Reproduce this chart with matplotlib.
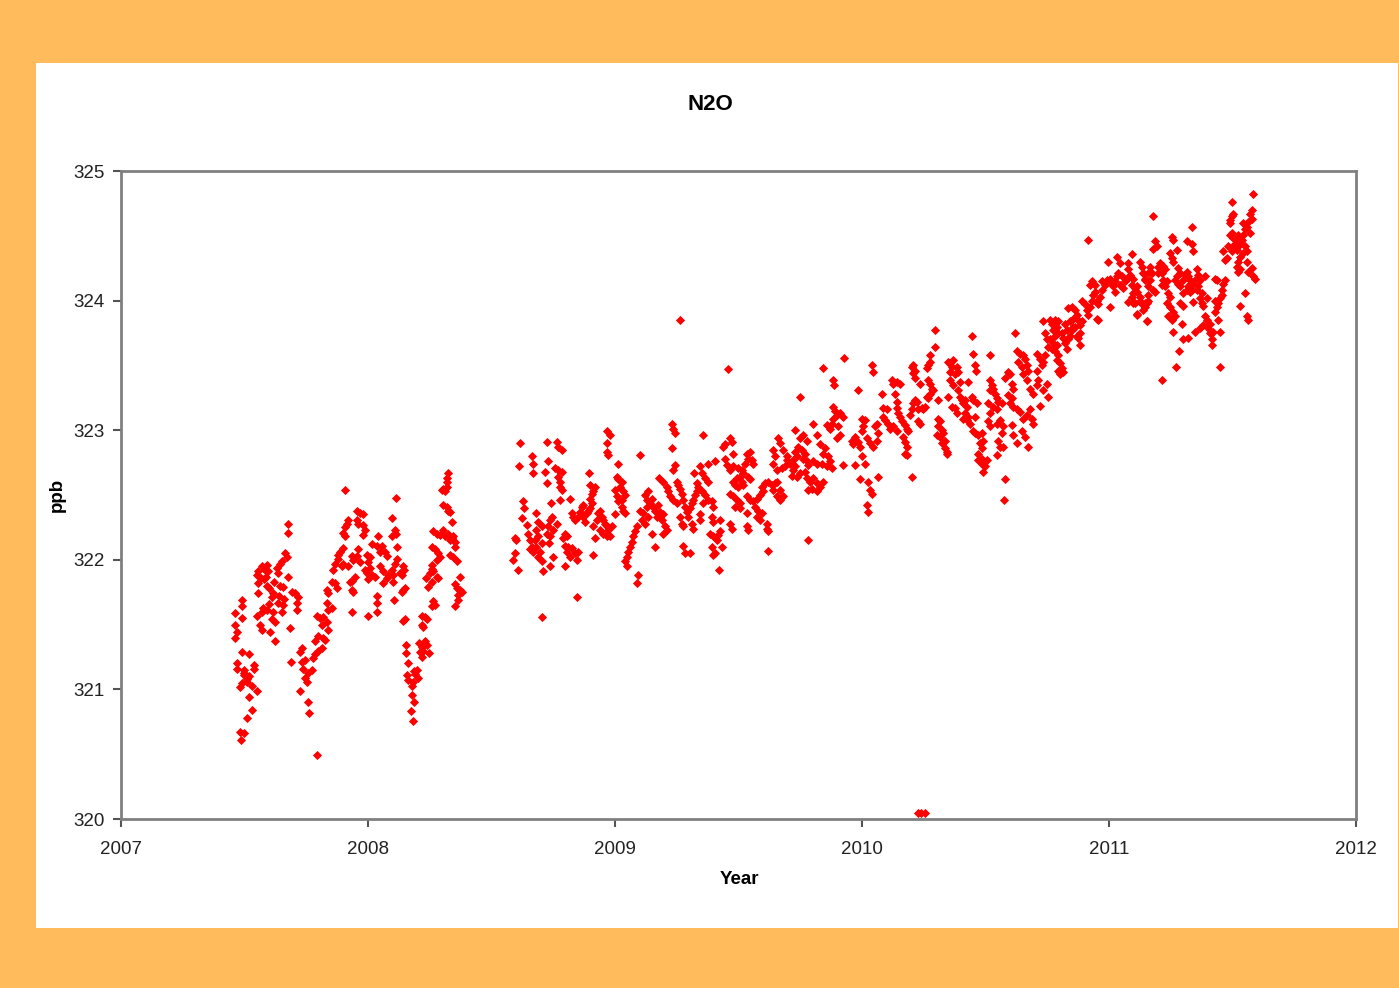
import matplotlib
matplotlib.use("Agg")
import matplotlib.pyplot as plt
from matplotlib.patches import Rectangle

plt.rcParams['font.family'] = ['Liberation Sans', 'DejaVu Sans']

title = "N2O"
x_label = "Year"
y_label = "ppb"
x_ticks = [2007, 2008, 2009, 2010, 2011, 2012]
y_ticks = [320, 321, 322, 323, 324, 325]

# (decimal year, N2O ppb)
seg_2007a = [(2007.46,321.59),(2007.46,321.50),(2007.47,321.44),(2007.46,321.40),(2007.49,321.69),(2007.49,321.64),(2007.49,321.55),(2007.49,321.29),(2007.52,321.27),(2007.47,321.20),(2007.47,321.16),(2007.54,321.19),(2007.54,321.16),(2007.50,321.11),(2007.52,321.10),(2007.48,321.02),(2007.51,321.06),(2007.53,321.03),(2007.55,320.99),(2007.52,320.94),(2007.53,320.84),(2007.51,320.78),(2007.48,320.67),(2007.50,320.66),(2007.485,320.61),(2007.50,321.13),(2007.51,321.08),(2007.49,321.05),(2007.50,321.15)]

seg_2007b = [(2007.676,322.28),(2007.676,322.21),(2007.664,322.05),(2007.672,322.02),(2007.644,321.97),(2007.650,321.99),(2007.555,321.91),(2007.583,321.92),(2007.595,321.91),(2007.551,321.88),(2007.565,321.86),(2007.587,321.87),(2007.632,321.94),(2007.636,321.90),(2007.676,321.87),(2007.555,321.82),(2007.591,321.80),(2007.644,321.80),(2007.656,321.79),(2007.692,321.75),(2007.704,321.74),(2007.717,321.71),(2007.611,321.71),(2007.615,321.74),(2007.555,321.74),(2007.713,321.67),(2007.713,321.61),(2007.636,321.67),(2007.656,321.65),(2007.575,321.63),(2007.571,321.60),(2007.591,321.61),(2007.615,321.60),(2007.611,321.54),(2007.623,321.52),(2007.652,321.60),(2007.551,321.57),(2007.563,321.50),(2007.571,321.46),(2007.603,321.44),(2007.623,321.37),(2007.684,321.47),(2007.688,321.21),(2007.58,321.85),(2007.60,321.78),(2007.62,321.83),(2007.64,321.72),(2007.66,321.70),(2007.60,321.66),(2007.57,321.95),(2007.59,321.96)]

seg_2007c = [(2007.725,321.29),(2007.733,321.32),(2007.733,321.21),(2007.745,321.23),(2007.737,321.16),(2007.745,321.09),(2007.753,321.06),(2007.757,321.13),(2007.773,321.15),(2007.725,320.99),(2007.757,320.90),(2007.761,320.82),(2007.794,320.49),(2007.777,321.24),(2007.785,321.27),(2007.798,321.30),(2007.814,321.32),(2007.785,321.37),(2007.798,321.41),(2007.826,321.38),(2007.818,321.40),(2007.794,321.57),(2007.806,321.55),(2007.818,321.56),(2007.814,321.50),(2007.834,321.52),(2007.838,321.46),(2007.834,321.67),(2007.838,321.61),(2007.854,321.63),(2007.834,321.77),(2007.838,321.74),(2007.854,321.83),(2007.866,321.82),(2007.874,321.78),(2007.858,321.92),(2007.866,321.97),(2007.879,322.01),(2007.887,322.06),(2007.879,322.04),(2007.895,321.95),(2007.899,321.97),(2007.899,322.09),(2007.907,322.25),(2007.915,322.28),(2007.919,322.31),(2007.907,322.18),(2007.899,322.21),(2007.907,322.54),(2007.935,322.03),(2007.939,322.00),(2007.919,321.95),(2007.955,322.38),(2007.968,322.36),(2007.955,322.31),(2007.960,322.28),(2007.980,322.35),(2007.980,322.27),(2007.988,322.23),(2007.980,322.19),(2007.935,321.84),(2007.947,321.87),(2007.927,321.83),(2007.939,321.75),(2007.935,321.77),(2007.935,321.60),(2007.960,322.08),(2007.955,322.03),(2007.968,321.98),(2007.996,322.04),(2008.008,322.02),(2008.000,321.98),(2007.988,321.92),(2007.996,321.90),(2008.008,321.94),(2008.000,321.85),(2008.016,322.12),(2008.036,322.11),(2008.040,322.18),(2008.057,322.11),(2008.049,322.06),(2008.069,322.06),(2008.077,322.03),(2008.016,321.88),(2008.028,321.87),(2008.036,321.72),(2008.036,321.67),(2008.000,321.57),(2008.036,321.60),(2008.049,321.95),(2008.061,321.91),(2008.077,321.86),(2008.061,321.82),(2008.081,321.88)]

seg_2008a = [(2008.113,322.48),(2008.096,322.32),(2008.109,322.23),(2008.113,322.20),(2008.116,322.10),(2008.096,322.18),(2008.116,322.01),(2008.109,321.97),(2008.096,321.92),(2008.140,321.95),(2008.146,321.92),(2008.136,321.88),(2008.130,321.90),(2008.103,321.88),(2008.100,321.83),(2008.150,321.78),(2008.143,321.77),(2008.136,321.75),(2008.105,321.69),(2008.143,321.53),(2008.150,321.54),(2008.154,321.34),(2008.154,321.28),(2008.163,321.20),(2008.159,321.11),(2008.163,321.07),(2008.177,321.03),(2008.184,321.06),(2008.190,321.12),(2008.204,321.09),(2008.197,321.15),(2008.186,321.14),(2008.177,320.96),(2008.186,320.90),(2008.173,320.83),(2008.181,320.76),(2008.208,321.36),(2008.217,321.33),(2008.224,321.30),(2008.238,321.34),(2008.231,321.37),(2008.211,321.29),(2008.217,321.25),(2008.248,321.28),(2008.217,321.57),(2008.231,321.56),(2008.238,321.54),(2008.217,321.50),(2008.224,321.48),(2008.265,321.68),(2008.271,321.65),(2008.258,321.64),(2008.235,321.86),(2008.251,321.90),(2008.244,321.79),(2008.258,321.83),(2008.278,321.87),(2008.285,321.86),(2008.265,321.91),(2008.258,321.93),(2008.258,322.10),(2008.271,322.08),(2008.285,322.05),(2008.292,322.02),(2008.278,322.00),(2008.258,321.96),(2008.265,322.22),(2008.278,322.20),(2008.292,322.19),(2008.305,322.23),(2008.312,322.18),(2008.325,322.20),(2008.332,322.15),(2008.339,322.17),(2008.305,322.42),(2008.319,322.41),(2008.325,322.38),(2008.332,322.37),(2008.298,322.54),(2008.312,322.53),(2008.305,322.55),(2008.319,322.56),(2008.325,322.67),(2008.321,322.63),(2008.319,322.60),(2008.339,322.29),(2008.345,322.18),(2008.352,322.14),(2008.352,322.10),(2008.332,322.04),(2008.345,322.02),(2008.359,321.99),(2008.372,321.87),(2008.352,321.81),(2008.359,321.78),(2008.372,321.77),(2008.379,321.75),(2008.366,321.73),(2008.366,321.69),(2008.352,321.64)]

seg_2008b = [(2008.615,322.90),(2008.612,322.72),(2008.628,322.45),(2008.631,322.40),(2008.622,322.32),(2008.595,322.17),(2008.601,322.15),(2008.595,322.05),(2008.588,322.00),(2008.608,321.92),(2008.642,322.27),(2008.649,322.20),(2008.655,322.15),(2008.662,322.10),(2008.669,322.06),(2008.655,322.08),(2008.662,322.80),(2008.666,322.74),(2008.669,322.67),(2008.682,322.36),(2008.689,322.29),(2008.703,322.26),(2008.682,322.23),(2008.676,322.15),(2008.689,322.18),(2008.703,322.13),(2008.682,322.10),(2008.696,322.06),(2008.689,322.02),(2008.703,321.99),(2008.710,321.91),(2008.723,322.91),(2008.716,322.68),(2008.723,322.59),(2008.730,322.76),(2008.737,322.31),(2008.743,322.33),(2008.730,322.26),(2008.723,322.20),(2008.737,322.18),(2008.734,322.13),(2008.748,322.02),(2008.737,321.95),(2008.764,322.91),(2008.771,322.87),(2008.784,322.85),(2008.757,322.71),(2008.771,322.69),(2008.784,322.68),(2008.771,322.64),(2008.777,322.60),(2008.777,322.56),(2008.784,322.54),(2008.777,322.46),(2008.741,322.44),(2008.750,322.23),(2008.764,322.28),(2008.798,322.20),(2008.804,322.18),(2008.791,322.17),(2008.798,322.11),(2008.811,322.10),(2008.825,322.09),(2008.804,322.06),(2008.818,322.02),(2008.838,322.05),(2008.852,322.06),(2008.845,322.00),(2008.798,321.95),(2008.845,321.71),(2008.703,321.56),(2008.818,322.47),(2008.825,322.36),(2008.831,322.33),(2008.838,322.31),(2008.852,322.33),(2008.858,322.37),(2008.865,322.41),(2008.872,322.42),(2008.872,322.33),(2008.879,322.29),(2008.885,322.36),(2008.892,322.38),(2008.899,322.40),(2008.906,322.44),(2008.899,322.47),(2008.906,322.51),(2008.912,322.53),(2008.919,322.56),(2008.899,322.58),(2008.896,322.67),(2008.912,322.26),(2008.926,322.31),(2008.932,322.36),(2008.939,322.38),(2008.946,322.33),(2008.953,322.31),(2008.960,322.28),(2008.966,322.26),(2008.973,322.23),(2008.980,322.18),(2008.953,322.20),(2008.939,322.23),(2008.966,322.18),(2008.986,322.26),(2008.919,322.17),(2008.910,322.04),(2008.966,322.99),(2008.980,322.96),(2008.969,322.90),(2008.966,322.83),(2008.973,322.81)]

seg_2009a = [(2009.014,322.74),(2009.007,322.64),(2009.014,322.62),(2009.027,322.60),(2009.020,322.56),(2009.034,322.53),(2009.041,322.50),(2009.027,322.46),(2009.000,322.54),(2009.007,322.49),(2009.014,322.45),(2009.027,322.41),(2009.034,322.38),(2009.041,322.36),(2009.000,322.35),(2009.088,322.26),(2009.081,322.22),(2009.074,322.18),(2009.068,322.14),(2009.061,322.10),(2009.054,322.06),(2009.047,322.02),(2009.041,321.99),(2009.047,321.95),(2009.094,321.88),(2009.088,321.82),(2009.101,322.81),(2009.101,322.38),(2009.115,322.36),(2009.108,322.31),(2009.121,322.28),(2009.135,322.33),(2009.128,322.41),(2009.121,322.50),(2009.135,322.53),(2009.128,322.46),(2009.149,322.47),(2009.142,322.44),(2009.155,322.41),(2009.162,322.38),(2009.176,322.42),(2009.182,322.37),(2009.169,322.33),(2009.189,322.31),(2009.196,322.35),(2009.203,322.26),(2009.209,322.23),(2009.196,322.20),(2009.149,322.20),(2009.162,322.10),(2009.180,322.63),(2009.196,322.60),(2009.209,322.56),(2009.216,322.53),(2009.223,322.49),(2009.236,322.46),(2009.250,322.44),(2009.229,322.86),(2009.233,322.69),(2009.243,322.73),(2009.250,322.60),(2009.257,322.58),(2009.263,322.55),(2009.270,322.51),(2009.229,323.05),(2009.236,323.01),(2009.243,322.98),(2009.277,322.46),(2009.284,322.41),(2009.290,322.37),(2009.297,322.33),(2009.304,322.40),(2009.311,322.44),(2009.317,322.46),(2009.324,322.50),(2009.331,322.53),(2009.263,322.33),(2009.270,322.28),(2009.277,322.26),(2009.311,322.28),(2009.317,322.24),(2009.277,322.11),(2009.284,322.05),(2009.304,322.05),(2009.320,322.67),(2009.331,322.59),(2009.337,322.56)]

seg_2009b = [(2009.263,323.85),(2009.459,323.47),(2009.358,322.96),(2009.445,322.89),(2009.439,322.87),(2009.466,322.94),(2009.472,322.91),(2009.479,322.82),(2009.344,322.72),(2009.378,322.74),(2009.405,322.76),(2009.351,322.67),(2009.364,322.63),(2009.378,322.60),(2009.351,322.53),(2009.364,322.50),(2009.378,322.46),(2009.391,322.45),(2009.398,322.41),(2009.358,322.44),(2009.344,322.35),(2009.344,322.31),(2009.391,322.33),(2009.398,322.29),(2009.425,322.31),(2009.466,322.28),(2009.472,322.24),(2009.385,322.20),(2009.398,322.18),(2009.412,322.15),(2009.418,322.19),(2009.425,322.22),(2009.432,322.10),(2009.391,322.10),(2009.405,322.05),(2009.398,322.04),(2009.422,321.92),(2009.621,322.07),(2009.783,322.15),(2009.533,322.26),(2009.540,322.23),(2009.614,322.28),(2009.617,322.24),(2009.621,322.22),(2009.445,322.78),(2009.452,322.73),(2009.466,322.69),(2009.479,322.72),(2009.499,322.71),(2009.513,322.69),(2009.520,322.67),(2009.506,322.64),(2009.493,322.63),(2009.479,322.60),(2009.486,322.58),(2009.499,322.56),(2009.513,322.60),(2009.520,322.58),(2009.540,322.64),(2009.547,322.62),(2009.533,322.82),(2009.547,322.83),(2009.540,322.78),(2009.553,322.77),(2009.560,322.74),(2009.526,322.74),(2009.466,322.51),(2009.479,322.49),(2009.493,322.46),(2009.506,322.44),(2009.486,322.41),(2009.506,322.40),(2009.533,322.49),(2009.547,322.46),(2009.560,322.45),(2009.574,322.47),(2009.587,322.50),(2009.601,322.53),(2009.594,322.56),(2009.607,322.59),(2009.621,322.60),(2009.634,322.58),(2009.648,322.59),(2009.655,322.60),(2009.641,322.54),(2009.655,322.49),(2009.668,322.46),(2009.682,322.49),(2009.668,322.54),(2009.567,322.41),(2009.580,322.38),(2009.594,322.36),(2009.574,322.33),(2009.587,322.31),(2009.533,322.36)]

seg_2009c = [(2009.641,322.85),(2009.648,322.80),(2009.661,322.94),(2009.668,322.90),(2009.682,322.85),(2009.695,322.80),(2009.641,322.74),(2009.655,322.69),(2009.675,322.71),(2009.688,322.72),(2009.695,322.77),(2009.709,322.74),(2009.722,322.77),(2009.736,322.80),(2009.729,322.72),(2009.722,322.69),(2009.715,322.65),(2009.736,322.64),(2009.749,322.67),(2009.729,322.83),(2009.742,322.87),(2009.756,322.85),(2009.769,322.82),(2009.763,322.78),(2009.776,322.76),(2009.783,322.73),(2009.769,322.68),(2009.776,322.63),(2009.790,322.60),(2009.803,322.63),(2009.817,322.59),(2009.830,322.56),(2009.844,322.60),(2009.796,322.55),(2009.817,322.53),(2009.783,322.54),(2009.749,323.26),(2009.729,323.00),(2009.763,322.96),(2009.776,322.92),(2009.749,322.94),(2009.803,323.05),(2009.817,322.96),(2009.830,322.89),(2009.844,322.82),(2009.850,322.86),(2009.864,322.80),(2009.871,322.76),(2009.877,322.71),(2009.857,322.72),(2009.837,322.74),(2009.817,322.74),(2009.803,322.76),(2009.857,323.04),(2009.871,323.01),(2009.877,323.05),(2009.884,323.09),(2009.891,323.15),(2009.884,323.18),(2009.898,323.12),(2009.911,323.13),(2009.925,323.10),(2009.904,323.03),(2009.911,322.96),(2009.898,322.94),(2009.843,323.48),(2009.884,323.39),(2009.887,323.35),(2009.927,323.56),(2009.985,323.31),(2009.925,322.73),(2009.965,322.89),(2009.958,322.92),(2009.972,322.95),(2009.985,322.91),(2009.992,322.87),(2009.999,322.99),(2010.005,323.03),(2009.999,323.09),(2010.012,323.08),(2010.019,322.94),(2010.032,322.90),(2010.046,322.87),(2010.059,322.92),(2010.066,322.98),(2010.059,323.05),(2010.053,323.03),(2009.972,322.73),(2009.999,322.80),(2010.012,322.74),(2009.992,322.62),(2010.026,322.60),(2010.032,322.54),(2010.039,322.51),(2010.019,322.42),(2010.026,322.37),(2010.066,322.64),(2010.039,323.50),(2010.046,323.45)]

seg_2010a = [(2010.080,323.28),(2010.086,323.17),(2010.100,323.16),(2010.086,323.10),(2010.093,323.08),(2010.107,323.05),(2010.113,323.01),(2010.127,323.03),(2010.140,322.99),(2010.120,323.39),(2010.127,323.36),(2010.140,323.37),(2010.154,323.36),(2010.134,323.28),(2010.140,323.22),(2010.140,323.17),(2010.147,323.13),(2010.154,323.10),(2010.161,323.07),(2010.174,323.04),(2010.181,323.01),(2010.188,322.99),(2010.167,322.95),(2010.174,322.91),(2010.181,322.87),(2010.174,322.82),(2010.181,322.81),(2010.201,322.64),(2010.194,323.12),(2010.201,323.16),(2010.208,323.21),(2010.215,323.23),(2010.221,323.22),(2010.201,323.49),(2010.208,323.50),(2010.215,323.46),(2010.208,323.44),(2010.215,323.40),(2010.235,323.36),(2010.242,323.17),(2010.248,323.16),(2010.255,323.18),(2010.262,323.48),(2010.269,323.50),(2010.275,323.53),(2010.275,323.58),(2010.296,323.64),(2010.296,323.77),(2010.262,323.26),(2010.269,323.25),(2010.275,323.28),(2010.282,323.32),(2010.289,323.31),(2010.275,323.36),(2010.269,323.39),(2010.228,323.16),(2010.235,323.05),(2010.228,323.07),(2010.309,323.23),(2010.309,323.09),(2010.316,323.07),(2010.309,323.03),(2010.323,323.00),(2010.302,322.96),(2010.316,322.95),(2010.329,322.98),(2010.336,322.92),(2010.323,322.90),(2010.336,322.86),(2010.343,322.83),(2010.343,322.82),(2010.225,320.05),(2010.24,320.05),(2010.255,320.05)]

seg_2010b = [(2010.350,323.53),(2010.357,323.52),(2010.370,323.54),(2010.363,323.49),(2010.357,323.45),(2010.383,323.49),(2010.390,323.45),(2010.377,323.43),(2010.357,323.39),(2010.370,323.35),(2010.350,323.26),(2010.363,323.18),(2010.377,323.17),(2010.390,323.31),(2010.397,323.26),(2010.383,323.13),(2010.404,323.23),(2010.410,323.21),(2010.417,323.23),(2010.424,323.18),(2010.417,323.13),(2010.431,323.10),(2010.410,323.09),(2010.424,323.08),(2010.437,323.05),(2010.397,323.37),(2010.431,323.37),(2010.444,323.73),(2010.451,323.59),(2010.457,323.50),(2010.462,323.46),(2010.444,323.26),(2010.451,323.23),(2010.464,323.21),(2010.457,323.10),(2010.451,322.99),(2010.457,322.98),(2010.471,322.96),(2010.485,322.98),(2010.491,322.92),(2010.478,322.90),(2010.485,322.86),(2010.471,322.82),(2010.471,322.77),(2010.485,322.74),(2010.498,322.72),(2010.491,322.68),(2010.505,322.77),(2010.485,322.78),(2010.518,323.58),(2010.518,323.39),(2010.525,323.35),(2010.518,323.31),(2010.532,323.32),(2010.539,323.28),(2010.511,323.21),(2010.518,323.13),(2010.532,323.18),(2010.545,323.25),(2010.545,323.16),(2010.552,323.22),(2010.566,323.21),(2010.511,323.07),(2010.518,323.03),(2010.545,323.05),(2010.559,323.08),(2010.572,323.03),(2010.566,322.98),(2010.552,322.92),(2010.559,322.87),(2010.545,322.81),(2010.572,322.87),(2010.579,322.62),(2010.575,322.46)]

seg_2010c = [(2010.579,323.40),(2010.593,323.45),(2010.599,323.43),(2010.606,323.36),(2010.613,323.32),(2010.593,323.27),(2010.606,323.25),(2010.599,323.21),(2010.613,323.18),(2010.626,323.16),(2010.619,323.75),(2010.626,323.61),(2010.640,323.59),(2010.653,323.58),(2010.660,323.55),(2010.633,323.53),(2010.647,323.49),(2010.667,323.50),(2010.674,323.46),(2010.653,323.43),(2010.667,323.39),(2010.606,323.04),(2010.613,322.96),(2010.626,322.90),(2010.647,322.99),(2010.660,322.95),(2010.674,322.87),(2010.640,323.14),(2010.653,323.09),(2010.667,323.12),(2010.680,323.16),(2010.687,323.09),(2010.694,323.05),(2010.680,323.32),(2010.694,323.28),(2010.707,323.35),(2010.714,323.39),(2010.707,323.46),(2010.727,323.50),(2010.734,323.53),(2010.741,323.58),(2010.707,323.59),(2010.721,323.55),(2010.731,323.84),(2010.741,323.75),(2010.748,323.70),(2010.754,323.64),(2010.734,323.31),(2010.748,323.36),(2010.721,323.19),(2010.754,323.26)]

seg_2010d = [(2010.916,324.47),(2010.761,323.85),(2010.768,323.82),(2010.775,323.77),(2010.781,323.85),(2010.795,323.84),(2010.788,323.80),(2010.795,323.75),(2010.781,323.73),(2010.761,323.70),(2010.775,323.67),(2010.788,323.66),(2010.768,323.63),(2010.781,323.61),(2010.795,323.58),(2010.788,323.54),(2010.802,323.52),(2010.795,323.46),(2010.802,323.43),(2010.808,323.48),(2010.815,323.45),(2010.808,323.75),(2010.815,323.71),(2010.822,323.67),(2010.829,323.63),(2010.835,323.70),(2010.842,323.73),(2010.849,323.77),(2010.856,323.80),(2010.829,323.77),(2010.822,323.82),(2010.835,323.94),(2010.849,323.95),(2010.862,323.93),(2010.869,323.89),(2010.856,323.86),(2010.842,323.84),(2010.876,323.85),(2010.882,323.81),(2010.889,323.84),(2010.862,323.80),(2010.882,323.75),(2010.876,323.71),(2010.882,323.66),(2010.869,323.73),(2010.889,324.00),(2010.903,323.97),(2010.910,323.93),(2010.916,323.89),(2010.923,323.95),(2010.930,324.00),(2010.936,324.04),(2010.943,324.07),(2010.950,324.00),(2010.957,323.97),(2010.963,324.03),(2010.950,323.86),(2010.957,323.85),(2010.970,324.08),(2010.923,324.12),(2010.930,324.15),(2010.943,324.12)]

seg_2011a = [(2010.970,324.15),(2010.984,324.12),(2010.990,324.16),(2011.004,324.17),(2011.011,324.13),(2011.017,324.11),(2011.024,324.15),(2011.031,324.19),(2011.038,324.21),(2011.004,323.95),(2011.024,324.07),(2011.044,324.12),(2011.058,324.10),(2011.065,324.15),(2011.071,324.17),(2011.051,324.19),(2010.997,324.30),(2011.031,324.34),(2011.044,324.29),(2011.078,324.29),(2011.092,324.36),(2011.078,324.24),(2011.085,324.20),(2011.098,324.17),(2011.092,324.12),(2011.105,324.10),(2011.112,324.07),(2011.092,324.03),(2011.078,323.99),(2011.098,323.98),(2011.112,323.89),(2011.125,324.03),(2011.132,323.97),(2011.139,323.93),(2011.146,323.95),(2011.152,323.98),(2011.159,324.00),(2011.152,323.84),(2011.125,324.30),(2011.132,324.26),(2011.139,324.21),(2011.146,324.17),(2011.159,324.11),(2011.159,324.21),(2011.112,324.11),(2011.098,324.06),(2011.105,323.98),(2011.125,324.00),(2011.146,323.98),(2011.159,324.04),(2011.112,323.90),(2011.152,323.84),(2011.139,324.21),(2011.146,324.16)]

seg_2011b = [(2011.179,324.65),(2011.186,324.46),(2011.193,324.42),(2011.179,324.40),(2011.200,324.26),(2011.206,324.29),(2011.213,324.25),(2011.220,324.27),(2011.227,324.24),(2011.213,324.21),(2011.200,324.21),(2011.220,324.16),(2011.233,324.15),(2011.227,324.11),(2011.213,324.12),(2011.166,324.26),(2011.173,324.21),(2011.166,324.16),(2011.186,324.07),(2011.179,324.08),(2011.240,324.06),(2011.247,324.03),(2011.233,323.98),(2011.247,323.95),(2011.260,323.91),(2011.240,323.88),(2011.254,323.85),(2011.267,323.88),(2011.260,323.76),(2011.287,323.98),(2011.301,323.96),(2011.254,324.49),(2011.260,324.47),(2011.247,324.37),(2011.254,324.33),(2011.260,324.30),(2011.274,324.39),(2011.281,324.25),(2011.287,324.21),(2011.274,324.19),(2011.267,324.16),(2011.281,324.13),(2011.287,324.11),(2011.301,324.16),(2011.308,324.20),(2011.314,324.22),(2011.321,324.19),(2011.328,324.16),(2011.321,324.11),(2011.314,324.08),(2011.301,324.06),(2011.328,324.07),(2011.335,324.08),(2011.341,324.13),(2011.348,324.16),(2011.355,324.24),(2011.362,324.20),(2011.368,324.16),(2011.362,324.11),(2011.355,324.08),(2011.375,324.06),(2011.389,324.19),(2011.368,324.02),(2011.375,323.98),(2011.382,323.96),(2011.395,324.02),(2011.335,324.57),(2011.314,324.46),(2011.335,324.44),(2011.341,324.38),(2011.341,323.99),(2011.294,323.82),(2011.301,323.70),(2011.321,323.71),(2011.348,323.76),(2011.368,323.79),(2011.382,323.81),(2011.389,323.88),(2011.395,323.85),(2011.409,323.82),(2011.402,323.79),(2011.409,323.75),(2011.416,323.70),(2011.416,323.66),(2011.422,323.76),(2011.429,323.91),(2011.436,323.95),(2011.429,324.00),(2011.443,323.98),(2011.449,324.02),(2011.456,324.04),(2011.456,324.08),(2011.463,324.13),(2011.470,324.16),(2011.436,324.16),(2011.429,324.17),(2011.443,323.85),(2011.449,323.76),(2011.449,323.49),(2011.285,323.61),(2011.271,323.49),(2011.213,323.39)]

seg_2011c = [(2011.490,324.62),(2011.497,324.65),(2011.490,324.60),(2011.497,324.76),(2011.503,324.67),(2011.497,324.52),(2011.490,324.51),(2011.503,324.48),(2011.510,324.44),(2011.517,324.48),(2011.524,324.51),(2011.503,324.42),(2011.497,324.38),(2011.517,324.39),(2011.524,324.42),(2011.530,324.44),(2011.537,324.47),(2011.544,324.51),(2011.551,324.55),(2011.544,324.60),(2011.557,324.57),(2011.564,324.61),(2011.571,324.67),(2011.578,324.70),(2011.584,324.82),(2011.578,324.63),(2011.571,324.52),(2011.551,324.42),(2011.557,324.38),(2011.544,324.37),(2011.530,324.34),(2011.524,324.30),(2011.517,324.26),(2011.530,324.24),(2011.524,324.22),(2011.557,324.30),(2011.564,324.22),(2011.578,324.25),(2011.584,324.19),(2011.591,324.17),(2011.551,324.06),(2011.557,323.88),(2011.564,323.85),(2011.530,323.96),(2011.463,324.38),(2011.470,324.31),(2011.476,324.33),(2011.483,324.42)]

segments = [seg_2007a, seg_2007b, seg_2007c, seg_2008a, seg_2008b, seg_2009a,
            seg_2009b, seg_2009c, seg_2010a, seg_2010b, seg_2010c, seg_2010d,
            seg_2011a, seg_2011b, seg_2011c]
points = [p for seg in segments for p in seg]
years = [p[0] for p in points]
ppb = [p[1] for p in points]

W, H = 1399, 988
fig = plt.figure(figsize=(W / 100, H / 100), dpi=100)
fig.patch.set_facecolor('#FFBB5C')
panel = Rectangle((36 / W, 1 - 928 / H), (1398 - 36) / W, (928 - 63) / H,
                  transform=fig.transFigure, facecolor='white',
                  edgecolor='none', zorder=-10)
fig.add_artist(panel)

ax = fig.add_axes([121 / W, 1 - 819 / H, (1356 - 121) / W, (819 - 171) / H])
ax.set_zorder(5)
ax.set_facecolor('white')
ax.plot(years, ppb, linestyle='none', marker='D', markersize=4.0,
        color='#FF0000', markeredgecolor='#FF0000', markeredgewidth=0.6,
        clip_on=False)

ax.set_xlim(2007, 2012)
ax.set_ylim(320, 325)
ax.set_xticks(x_ticks)
ax.set_yticks(y_ticks)
ax.set_xticklabels([str(t) for t in x_ticks])
ax.set_yticklabels([str(t) for t in y_ticks])

for s in ax.spines.values():
    s.set_color('#808080')
    s.set_linewidth(2)
ax.tick_params(axis='both', direction='out', length=6, width=1.5,
               color='#555555', labelsize=13.5, labelcolor='#222222')
ax.tick_params(axis='x', pad=10)
ax.tick_params(axis='y', pad=6)

fig.text(710 / W, 1 - 104 / H, title, ha='center', va='center',
         fontsize=16, fontweight='bold', color='black')
ax.set_xlabel(x_label, fontsize=13.5, fontweight='bold')
ax.set_ylabel(y_label, fontsize=13.5, fontweight='bold')
ax.xaxis.set_label_coords((739 - 121) / 1235, (819 - 879) / 648)
ax.yaxis.set_label_coords((57 - 121) / 1235, (819 - 495) / 648)
ax.xaxis.label.set_va('center')
ax.yaxis.label.set_va('center')

fig.savefig('out.png', dpi=100, facecolor=fig.get_facecolor())
